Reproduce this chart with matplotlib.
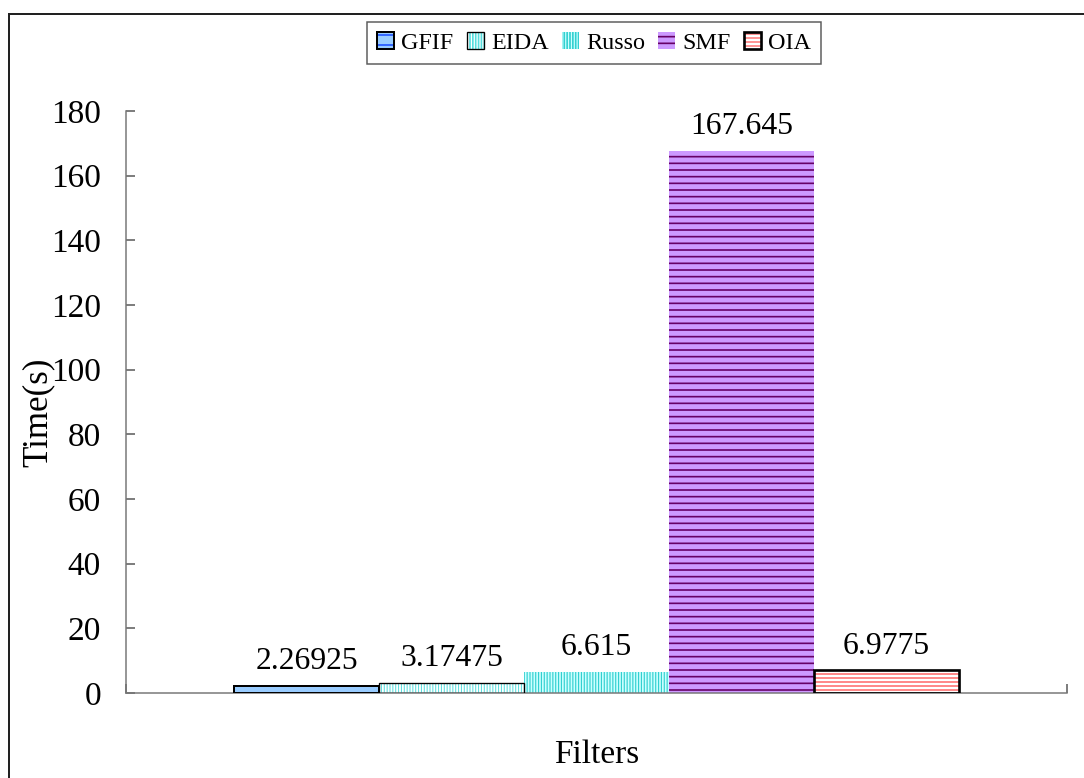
import matplotlib
matplotlib.use("Agg")
import matplotlib.pyplot as plt
from matplotlib.patches import Rectangle

# Processing time per filter
filters = ["GFIF", "EIDA", "Russo", "SMF", "OIA"]
times = [2.26925, 3.17475, 6.615, 167.645, 6.9775]
yticks = [0, 20, 40, 60, 80, 100, 120, 140, 160, 180]

# Per-bar styling: fill, hatch, hatch colour, hatch width, outline colour, outline width
styles = {
    "GFIF":  dict(fc="#99ccff", hatch="--",      hc="#2255ff", hw=1.0, ec="black", lw=1.2),
    "EIDA":  dict(fc="white",   hatch="|||||||", hc="#55dddd", hw=0.6, ec="black", lw=0.8),
    "Russo": dict(fc="#ccffff", hatch="|||||||", hc="#33d0d0", hw=0.7, ec=None,    lw=0),
    "SMF":   dict(fc="#cc99ff", hatch="---",     hc="#660066", hw=1.0, ec=None,    lw=0),
    "OIA":   dict(fc="white",   hatch="-----",   hc="#ff8080", hw=1.1, ec="black", lw=1.6),
}

DPI = 120
plt.rcParams["font.family"] = ["Liberation Serif", "DejaVu Serif"]

fig = plt.figure(figsize=(1084 / DPI, 778 / DPI), dpi=DPI)
ax = fig.add_axes([126 / 1084, 1 - 693 / 778, 941 / 1084, 582 / 778])

width = 0.154
n = len(filters)
handles = []
for i, (name, val) in enumerate(zip(filters, times)):
    st = styles[name]
    xpos = (i - (n - 1) / 2) * width
    with plt.rc_context({"hatch.linewidth": st["hw"]}):
        b = ax.bar(xpos, val, width, color=st["fc"], hatch=st["hatch"],
                   edgecolor=st["hc"], linewidth=0, label=name, zorder=2)
        for p in b:
            if hasattr(p, "set_hatch_linewidth"):
                p.set_hatch_linewidth(st["hw"])
    parts = [b]
    if st["ec"] is not None:
        e = ax.bar(xpos, val, width, fill=False, edgecolor=st["ec"],
                   linewidth=st["lw"], zorder=3)
        parts.append(e)
    ax.annotate(str(val), (xpos, val), xytext=(0, 10), textcoords="offset points",
                ha="center", va="baseline", fontsize=19)
    handles.append(tuple(parts))

ax.set_xlim(-0.5, 0.5)
ax.set_ylim(0, 180)
ax.set_yticks(yticks)
ax.set_xticks([-0.5, 0.5])
ax.set_xticklabels(["", ""])
ax.tick_params(axis="y", direction="in", length=5.5, width=0.9, color="#555555",
               labelsize=20, pad=15)
ax.tick_params(axis="x", direction="in", length=5.5, width=0.9, color="#555555")

for s in ["top", "right"]:
    ax.spines[s].set_visible(False)
for s in ["left", "bottom"]:
    ax.spines[s].set_color("#777777")
    ax.spines[s].set_linewidth(0.9)

ax.set_ylabel("Time(s)", fontsize=21)
ax.yaxis.set_label_coords(-0.093, 0.483)
ax.yaxis.label.set_va("center")
ax.set_xlabel("Filters", fontsize=20)
ax.xaxis.set_label_coords(0.5, -0.106)
ax.xaxis.label.set_va("center")

leg = fig.legend(handles=handles, labels=filters, loc="upper center",
                 bbox_to_anchor=(594 / 1084, 1 - 22 / 778), ncol=5,
                 fontsize=14.5, frameon=True, fancybox=False, shadow=False,
                 handlelength=0.7, handleheight=0.75, handletextpad=0.3,
                 columnspacing=0.55, borderpad=0.4, borderaxespad=0)
leg.get_frame().set_edgecolor("#333333")
leg.get_frame().set_linewidth(0.9)

# Outer chart frame
fig.patches.append(Rectangle((9 / 1084, -0.1), 1.2, 1 - 14 / 778 + 0.1,
                             transform=fig.transFigure, fill=False,
                             edgecolor="#222222", linewidth=1.2))

fig.savefig("out.png", dpi=DPI)
